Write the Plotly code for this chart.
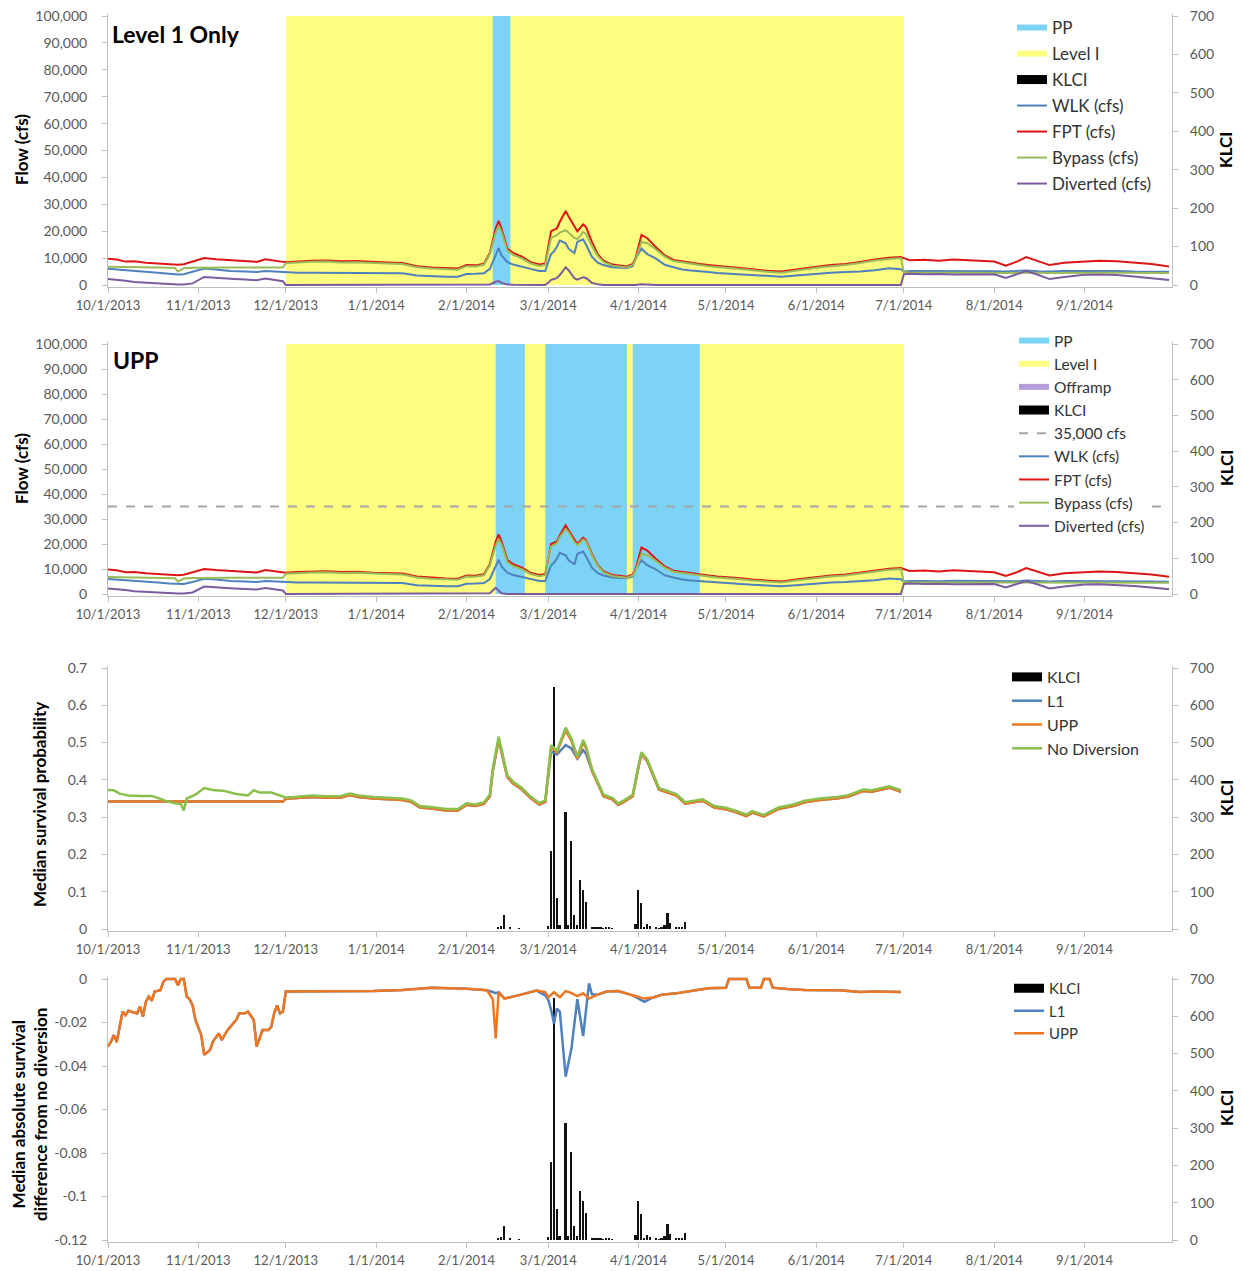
import plotly.graph_objects as go

# ---------------------------------------------------------------- data
month_ticks = ["2013-10-01", "2013-11-01", "2013-12-01", "2014-01-01", "2014-02-01", "2014-03-01",
               "2014-04-01", "2014-05-01", "2014-06-01", "2014-07-01", "2014-08-01", "2014-09-01"]
month_labels = ["10/1/2013", "11/1/2013", "12/1/2013", "1/1/2014", "2/1/2014", "3/1/2014",
                "4/1/2014", "5/1/2014", "6/1/2014", "7/1/2014", "8/1/2014", "9/1/2014"]

level1_periods = [("2013-12-01", "2014-07-01")]
pp_l1_periods = [("2014-02-10", "2014-02-16")]
pp_upp_periods = [("2014-02-11", "2014-02-21"), ("2014-02-28", "2014-03-28"), ("2014-03-30", "2014-04-22")]
offramp_periods = []
threshold_cfs = 35000

flow_dates = [
    "2013-10-01", "2013-10-04", "2013-10-07", "2013-10-10", "2013-10-14", "2013-10-18", "2013-10-22",
    "2013-10-24", "2013-10-25", "2013-10-27", "2013-10-30", "2013-11-03", "2013-11-07", "2013-11-12",
    "2013-11-17", "2013-11-21", "2013-11-24", "2013-11-27", "2013-11-30", "2013-12-01", "2013-12-05",
    "2013-12-10", "2013-12-15", "2013-12-20", "2013-12-25", "2013-12-31", "2014-01-05", "2014-01-10",
    "2014-01-15", "2014-01-20", "2014-01-25", "2014-01-29", "2014-02-01", "2014-02-04", "2014-02-07",
    "2014-02-09", "2014-02-11", "2014-02-12", "2014-02-13", "2014-02-15", "2014-02-17", "2014-02-20",
    "2014-02-23", "2014-02-26", "2014-02-28", "2014-03-01", "2014-03-02", "2014-03-03", "2014-03-04",
    "2014-03-05", "2014-03-07", "2014-03-08", "2014-03-10", "2014-03-11", "2014-03-13", "2014-03-14",
    "2014-03-16", "2014-03-18", "2014-03-20", "2014-03-23", "2014-03-26", "2014-03-28", "2014-03-30",
    "2014-03-31", "2014-04-02", "2014-04-04", "2014-04-07", "2014-04-10", "2014-04-13", "2014-04-16",
    "2014-04-19", "2014-04-22", "2014-04-25", "2014-04-28", "2014-05-01", "2014-05-05", "2014-05-10",
    "2014-05-15", "2014-05-20", "2014-05-25", "2014-06-01", "2014-06-06", "2014-06-11", "2014-06-16",
    "2014-06-21", "2014-06-26", "2014-06-30", "2014-07-01", "2014-07-03", "2014-07-08", "2014-07-13",
    "2014-07-18", "2014-07-23", "2014-07-28", "2014-08-01", "2014-08-05", "2014-08-09", "2014-08-12",
    "2014-08-16", "2014-08-20", "2014-08-25", "2014-09-01", "2014-09-06", "2014-09-12", "2014-09-18",
    "2014-09-24", "2014-09-30"]

fpt_cfs = [
    9800, 9500, 8700, 8800, 8300, 8000, 7700, 7600, 7500, 7700, 8600, 10000, 9600, 9200, 8800, 8600,
    9600, 9000, 8600, 8500, 8800, 9000, 9100, 8800, 8900, 8500, 8400, 8200, 7000, 6500, 6200, 6100,
    7400, 7300, 7900, 12000, 21000, 23800, 21000, 13600, 11900, 10500, 8500, 7600, 8000, 14000, 20000,
    20500, 21000, 23500, 27500, 25500, 21500, 20000, 22500, 21500, 16000, 11500, 9000, 7600, 7200,
    6900, 7800, 10000, 18600, 17400, 14000, 11000, 9300, 8800, 8100, 7800, 7400, 7000, 6800, 6400,
    5800, 5300, 5000, 5800, 6800, 7400, 7800, 8600, 9500, 10100, 10400, 10000, 9200, 9400, 9000,
    9500, 9200, 9000, 8700, 7200, 8800, 10400, 8800, 7400, 8300, 8700, 9000, 8800, 8300, 7800, 6900]

wlk_cfs = [
    6000, 5800, 5500, 5400, 5000, 4600, 4200, 4000, 3900, 4000, 4800, 6100, 5800, 5200, 5000, 4800,
    5200, 5000, 4700, 4600, 4600, 4600, 4600, 4600, 4600, 4500, 4500, 4400, 3500, 3200, 3100, 3100,
    4100, 4200, 4400, 6000, 11500, 13700, 11000, 8500, 7600, 6900, 6000, 5200, 5200, 8500, 11500,
    12500, 14200, 16500, 15500, 13500, 11900, 16000, 17000, 15000, 10500, 8300, 7400, 6600, 6400,
    6300, 7000, 10000, 13500, 11500, 9800, 7500, 6600, 5800, 5400, 5200, 4800, 4500, 4300, 4100,
    3700, 3300, 3100, 3500, 4300, 4600, 4800, 5000, 5500, 6200, 5900, 5000, 5200, 5200, 5100,
    5300, 5200, 5100, 5100, 5000, 5100, 5400, 5100, 5000, 5200, 5200, 5300, 5200, 5000, 5000, 4900]

bypass_l1_cfs = [
    6800, 6700, 6600, 6600, 6500, 6500, 6400, 6300, 5000, 6200, 6400, 6500, 6500, 6500, 6500, 6500,
    6600, 6500, 6500, 8100, 8400, 8600, 8700, 8400, 8500, 8100, 8000, 7800, 6600, 6100, 5800, 5700,
    7000, 6900, 7500, 11500, 19500, 22000, 19800, 12800, 11200, 9900, 8000, 7100, 7500, 13000, 17500,
    18000, 18500, 19500, 20400, 19500, 17500, 17000, 19700, 19000, 14500, 10800, 8600, 7200, 6800,
    6500, 7400, 9500, 16000, 15500, 13200, 10500, 8900, 8400, 7700, 7400, 7000, 6600, 6400, 6000,
    5400, 4900, 4600, 5400, 6400, 7000, 7400, 8200, 9100, 9700, 10000, 4800, 4600, 4600, 4500,
    4600, 4600, 4500, 4600, 4500, 4600, 4700, 4600, 4500, 4600, 4600, 4600, 4600, 4500, 4500, 4500]

diverted_l1_cfs = [
    2200, 2000, 1600, 1100, 800, 500, 300, 200, 200, 200, 600, 3000, 2600, 2300, 2000, 1800,
    2400, 2000, 1400, 0, 0, 0, 0, 0, 0, 0, 0, 0, 0, 0, 0, 0,
    0, 0, 0, 200, 1200, 1500, 800, 200, 100, 0, 0, 0, 0, 800, 1900,
    2200, 2600, 3700, 6600, 5500, 2500, 2000, 2900, 2600, 800, 300, 0, 0, 0,
    0, 0, 0, 300, 100, 0, 0, 0, 0, 0, 0, 0, 0, 0, 0,
    0, 0, 0, 0, 0, 0, 0, 0, 0, 0, 0, 4000, 4200, 4000, 4100,
    3900, 4000, 4100, 4000, 2600, 4200, 5200, 3800, 2200, 3000, 3800, 3900, 3700, 3200, 2600, 1900]

bypass_upp_cfs = [
    6800, 6700, 6600, 6600, 6500, 6500, 6400, 6300, 5000, 6200, 6400, 6500, 6500, 6500, 6500, 6500,
    6600, 6500, 6500, 8100, 8400, 8600, 8700, 8400, 8500, 8100, 8000, 7800, 6600, 6100, 5800, 5700,
    7000, 6900, 7500, 11500, 19500, 22000, 19800, 12800, 11200, 9900, 8000, 7100, 7500, 14500, 19000,
    19800, 20300, 22800, 26000, 24800, 20800, 19500, 21800, 21000, 15500, 11200, 8600, 7200, 6800,
    6500, 7400, 9500, 16000, 15500, 13200, 10500, 8900, 8400, 7700, 7400, 7000, 6600, 6400, 6000,
    5400, 4900, 4600, 5400, 6400, 7000, 7400, 8200, 9100, 9700, 10000, 4800, 4600, 4600, 4500,
    4600, 4600, 4500, 4600, 4500, 4600, 4700, 4600, 4500, 4600, 4600, 4600, 4600, 4500, 4500, 4500]

diverted_upp_cfs = [
    2200, 2000, 1600, 1100, 800, 500, 300, 200, 200, 200, 600, 3000, 2600, 2300, 2000, 1800,
    2400, 2000, 1400, 0, 0, 0, 0, 0, 0, 0, 0, 0, 0, 0, 0, 0,
    0, 0, 0, 300, 2500, 1200, 300, 0, 0, 0, 0, 0, 0, 0, 0,
    0, 0, 0, 0, 0, 0, 0, 0, 0, 0, 0, 0, 0, 0,
    0, 0, 0, 0, 0, 0, 0, 0, 0, 0, 0, 0, 0, 0, 0,
    0, 0, 0, 0, 0, 0, 0, 0, 0, 0, 0, 4000, 4200, 4000, 4100,
    3900, 4000, 4100, 4000, 2600, 4200, 5200, 3800, 2200, 3000, 3800, 3900, 3700, 3200, 2600, 1900]

klci_dates = [
    "2014-02-12", "2014-02-13", "2014-02-14", "2014-02-16", "2014-02-19", "2014-03-01", "2014-03-02",
    "2014-03-03", "2014-03-04", "2014-03-05", "2014-03-07", "2014-03-08", "2014-03-09", "2014-03-10",
    "2014-03-11", "2014-03-12", "2014-03-13", "2014-03-14", "2014-03-16", "2014-03-17", "2014-03-18",
    "2014-03-19", "2014-03-20", "2014-03-21", "2014-03-22", "2014-03-23", "2014-03-31", "2014-04-01",
    "2014-04-02", "2014-04-03", "2014-04-04", "2014-04-05", "2014-04-07", "2014-04-08", "2014-04-09",
    "2014-04-10", "2014-04-11", "2014-04-12", "2014-04-14", "2014-04-15", "2014-04-16", "2014-04-17"]
klci_values = [5, 8, 38, 5, 2, 8, 210, 650, 83, 11, 314, 10, 237, 38, 10, 131, 105, 72, 4, 3, 4,
               3, 2, 6, 4, 2, 13, 105, 70, 4, 13, 8, 3, 2, 3, 12, 43, 15, 4, 3, 5, 20]

surv_nd_dates = [
    "2013-10-01", "2013-10-03", "2013-10-05", "2013-10-08", "2013-10-12", "2013-10-16", "2013-10-18",
    "2013-10-21", "2013-10-24", "2013-10-26", "2013-10-27", "2013-10-28", "2013-10-31", "2013-11-03",
    "2013-11-06", "2013-11-10", "2013-11-14", "2013-11-18", "2013-11-20", "2013-11-22", "2013-11-26",
    "2013-11-29",
    "2013-12-01", "2013-12-05", "2013-12-10", "2013-12-15", "2013-12-20", "2013-12-23", "2013-12-26",
    "2013-12-31", "2014-01-05", "2014-01-10", "2014-01-13", "2014-01-16", "2014-01-20", "2014-01-25",
    "2014-01-29", "2014-02-01", "2014-02-04", "2014-02-07", "2014-02-09", "2014-02-10", "2014-02-12",
    "2014-02-13", "2014-02-15", "2014-02-17", "2014-02-20", "2014-02-23", "2014-02-26", "2014-02-28",
    "2014-03-01", "2014-03-02", "2014-03-04", "2014-03-07", "2014-03-09", "2014-03-11", "2014-03-13",
    "2014-03-14", "2014-03-16", "2014-03-18", "2014-03-20", "2014-03-23", "2014-03-25", "2014-03-27",
    "2014-03-30", "2014-04-01", "2014-04-02", "2014-04-04", "2014-04-06", "2014-04-08", "2014-04-11",
    "2014-04-14", "2014-04-17", "2014-04-20", "2014-04-23", "2014-04-27", "2014-05-01", "2014-05-04",
    "2014-05-08", "2014-05-10", "2014-05-14", "2014-05-19", "2014-05-24", "2014-05-28", "2014-06-02",
    "2014-06-08", "2014-06-12", "2014-06-17", "2014-06-20", "2014-06-26", "2014-06-30"]
surv_nd = [
    0.373, 0.372, 0.363, 0.358, 0.357, 0.357, 0.352, 0.343, 0.337, 0.335, 0.318, 0.350, 0.360, 0.378,
    0.373, 0.370, 0.362, 0.358, 0.372, 0.366, 0.366, 0.357,
    0.353, 0.355, 0.358, 0.356, 0.357, 0.363, 0.358, 0.354, 0.352, 0.350, 0.345, 0.330, 0.327, 0.322,
    0.322, 0.337, 0.334, 0.340, 0.360, 0.430, 0.516, 0.480, 0.412, 0.395, 0.378, 0.355, 0.338, 0.345,
    0.420, 0.493, 0.478, 0.540, 0.510, 0.462, 0.507, 0.490, 0.430, 0.395, 0.360, 0.352, 0.337, 0.345,
    0.360, 0.440, 0.474, 0.455, 0.415, 0.378, 0.370, 0.362, 0.340, 0.343, 0.348, 0.330, 0.325, 0.318,
    0.307, 0.316, 0.306, 0.326, 0.334, 0.344, 0.350, 0.354, 0.359, 0.374, 0.372, 0.383, 0.372]

surv_sc_dates = [
    "2013-10-01", "2013-11-30",
    "2013-12-01", "2013-12-05", "2013-12-10", "2013-12-15", "2013-12-20", "2013-12-23", "2013-12-26",
    "2013-12-31", "2014-01-05", "2014-01-10", "2014-01-13", "2014-01-16", "2014-01-20", "2014-01-25",
    "2014-01-29", "2014-02-01", "2014-02-04", "2014-02-07", "2014-02-09", "2014-02-10", "2014-02-12",
    "2014-02-13", "2014-02-15", "2014-02-17", "2014-02-20", "2014-02-23", "2014-02-26", "2014-02-28",
    "2014-03-01", "2014-03-02", "2014-03-04", "2014-03-07", "2014-03-09", "2014-03-11", "2014-03-13",
    "2014-03-14", "2014-03-16", "2014-03-18", "2014-03-20", "2014-03-23", "2014-03-25", "2014-03-27",
    "2014-03-30", "2014-04-01", "2014-04-02", "2014-04-04", "2014-04-06", "2014-04-08", "2014-04-11",
    "2014-04-14", "2014-04-17", "2014-04-20", "2014-04-23", "2014-04-27", "2014-05-01", "2014-05-04",
    "2014-05-08", "2014-05-10", "2014-05-14", "2014-05-19", "2014-05-24", "2014-05-28", "2014-06-02",
    "2014-06-08", "2014-06-12", "2014-06-17", "2014-06-20", "2014-06-26", "2014-06-30"]
surv_upp = [
    0.342, 0.342,
    0.349, 0.351, 0.354, 0.352, 0.353, 0.359, 0.354, 0.350, 0.348, 0.346, 0.341, 0.326, 0.323, 0.318,
    0.318, 0.333, 0.330, 0.336, 0.356, 0.424, 0.508, 0.474, 0.407, 0.390, 0.374, 0.351, 0.334, 0.341,
    0.415, 0.488, 0.474, 0.533, 0.504, 0.457, 0.500, 0.485, 0.425, 0.391, 0.356, 0.348, 0.333, 0.341,
    0.356, 0.435, 0.469, 0.450, 0.411, 0.374, 0.366, 0.358, 0.336, 0.339, 0.344, 0.326, 0.321, 0.314,
    0.303, 0.312, 0.302, 0.322, 0.330, 0.340, 0.346, 0.350, 0.355, 0.370, 0.368, 0.379, 0.368]
surv_l1 = [
    0.342, 0.342,
    0.349, 0.351, 0.354, 0.352, 0.353, 0.359, 0.354, 0.350, 0.348, 0.346, 0.341, 0.326, 0.323, 0.318,
    0.318, 0.333, 0.330, 0.336, 0.356, 0.424, 0.508, 0.474, 0.407, 0.390, 0.374, 0.351, 0.334, 0.341,
    0.415, 0.476, 0.468, 0.493, 0.484, 0.457, 0.480, 0.470, 0.425, 0.391, 0.356, 0.348, 0.333, 0.341,
    0.356, 0.435, 0.469, 0.450, 0.411, 0.374, 0.366, 0.358, 0.336, 0.339, 0.344, 0.326, 0.321, 0.314,
    0.303, 0.312, 0.302, 0.322, 0.330, 0.340, 0.346, 0.350, 0.355, 0.370, 0.368, 0.379, 0.368]

diff_upp_dates = [
    "2013-10-01", "2013-10-02", "2013-10-03", "2013-10-04", "2013-10-05", "2013-10-06", "2013-10-07",
    "2013-10-08", "2013-10-11", "2013-10-12", "2013-10-13", "2013-10-14", "2013-10-15", "2013-10-16",
    "2013-10-17", "2013-10-19", "2013-10-20", "2013-10-21", "2013-10-24", "2013-10-25", "2013-10-26",
    "2013-10-27", "2013-10-28", "2013-10-29", "2013-10-30", "2013-10-31", "2013-11-02", "2013-11-03",
    "2013-11-05", "2013-11-06", "2013-11-08", "2013-11-09", "2013-11-11", "2013-11-14", "2013-11-15",
    "2013-11-17", "2013-11-18", "2013-11-20", "2013-11-21", "2013-11-23", "2013-11-25", "2013-11-26",
    "2013-11-27", "2013-11-28", "2013-11-29", "2013-11-30", "2013-12-01", "2013-12-15", "2013-12-31",
    "2014-01-10", "2014-01-20", "2014-02-01", "2014-02-08", "2014-02-10", "2014-02-11", "2014-02-12",
    "2014-02-14", "2014-02-19", "2014-02-25", "2014-02-28", "2014-03-01", "2014-03-03", "2014-03-05",
    "2014-03-07", "2014-03-09", "2014-03-11", "2014-03-13", "2014-03-15", "2014-03-18", "2014-03-21",
    "2014-03-25", "2014-03-30", "2014-04-03", "2014-04-06", "2014-04-09", "2014-04-14", "2014-04-19",
    "2014-04-25", "2014-05-01", "2014-05-02", "2014-05-08", "2014-05-09", "2014-05-13", "2014-05-14",
    "2014-05-16", "2014-05-17", "2014-05-22", "2014-05-28", "2014-06-09", "2014-06-16", "2014-06-21",
    "2014-06-30"]
diff_upp = [
    -0.0311, -0.0288, -0.0258, -0.0290, -0.0220, -0.0150, -0.0166,
    -0.0146, -0.0158, -0.0127, -0.0173, -0.0104, -0.0081, -0.0100,
    -0.0058, -0.0051, -0.0012, 0.0, 0.0, -0.0028, 0.0,
    0.0, -0.0080, -0.0093, -0.0120, -0.0188, -0.0258, -0.0349,
    -0.0326, -0.0288, -0.0250, -0.0281, -0.0235, -0.0188, -0.0158,
    -0.0158, -0.0150, -0.0188, -0.0311, -0.0235, -0.0235, -0.0220,
    -0.0158, -0.0122, -0.0158, -0.0150, -0.0058, -0.0057, -0.0055,
    -0.0050, -0.0040, -0.0045, -0.0052, -0.0093, -0.0273, -0.0061,
    -0.0090, -0.0074, -0.0053, -0.0060, -0.0084, -0.0061, -0.0084,
    -0.0055, -0.0065, -0.0079, -0.0066, -0.0090, -0.0072, -0.0058,
    -0.0055, -0.0075, -0.0090, -0.0085, -0.0072, -0.0066, -0.0055,
    -0.0043, -0.0040, 0.0, 0.0, -0.0040, -0.0040, 0.0,
    0.0, -0.0040, -0.0046, -0.0050, -0.0052, -0.0060, -0.0058,
    -0.0060]

diff_l1_dates = [
    "2013-10-01", "2013-10-02", "2013-10-03", "2013-10-04", "2013-10-05", "2013-10-06", "2013-10-07",
    "2013-10-08", "2013-10-11", "2013-10-12", "2013-10-13", "2013-10-14", "2013-10-15", "2013-10-16",
    "2013-10-17", "2013-10-19", "2013-10-20", "2013-10-21", "2013-10-24", "2013-10-25", "2013-10-26",
    "2013-10-27", "2013-10-28", "2013-10-29", "2013-10-30", "2013-10-31", "2013-11-02", "2013-11-03",
    "2013-11-05", "2013-11-06", "2013-11-08", "2013-11-09", "2013-11-11", "2013-11-14", "2013-11-15",
    "2013-11-17", "2013-11-18", "2013-11-20", "2013-11-21", "2013-11-23", "2013-11-25", "2013-11-26",
    "2013-11-27", "2013-11-28", "2013-11-29", "2013-11-30", "2013-12-01", "2013-12-15", "2013-12-31",
    "2014-01-10", "2014-01-20", "2014-02-01", "2014-02-08", "2014-02-10", "2014-02-11", "2014-02-12",
    "2014-02-14", "2014-02-19", "2014-02-25", "2014-02-28", "2014-03-01", "2014-03-02", "2014-03-03",
    "2014-03-04", "2014-03-05", "2014-03-07", "2014-03-09", "2014-03-11", "2014-03-13", "2014-03-15",
    "2014-03-16", "2014-03-18", "2014-03-21", "2014-03-25", "2014-03-30", "2014-04-03", "2014-04-06",
    "2014-04-09", "2014-04-14", "2014-04-19", "2014-04-25", "2014-05-01", "2014-05-02", "2014-05-08",
    "2014-05-09", "2014-05-13", "2014-05-14", "2014-05-16", "2014-05-17", "2014-05-22", "2014-05-28",
    "2014-06-09", "2014-06-16", "2014-06-21", "2014-06-30"]
diff_l1 = [
    -0.0311, -0.0288, -0.0258, -0.0290, -0.0220, -0.0150, -0.0166,
    -0.0146, -0.0158, -0.0127, -0.0173, -0.0104, -0.0081, -0.0100,
    -0.0058, -0.0051, -0.0012, 0.0, 0.0, -0.0028, 0.0,
    0.0, -0.0080, -0.0093, -0.0120, -0.0188, -0.0258, -0.0349,
    -0.0326, -0.0288, -0.0250, -0.0281, -0.0235, -0.0188, -0.0158,
    -0.0158, -0.0150, -0.0188, -0.0311, -0.0235, -0.0235, -0.0220,
    -0.0158, -0.0122, -0.0158, -0.0150, -0.0058, -0.0057, -0.0055,
    -0.0050, -0.0040, -0.0045, -0.0052, -0.0060, -0.0065, -0.0061,
    -0.0090, -0.0074, -0.0053, -0.0075, -0.0095, -0.0142, -0.0204,
    -0.0136, -0.0150, -0.0449, -0.0317, -0.0093, -0.0262, -0.0020,
    -0.0070, -0.0072, -0.0058, -0.0055, -0.0075, -0.0105, -0.0085,
    -0.0072, -0.0066, -0.0055, -0.0043, -0.0040, 0.0, 0.0,
    -0.0040, -0.0040, 0.0, 0.0, -0.0040, -0.0046, -0.0050,
    -0.0052, -0.0060, -0.0058, -0.0060]

flow_ticks = [0, 10000, 20000, 30000, 40000, 50000, 60000, 70000, 80000, 90000, 100000]
flow_labels = ["0", "10,000", "20,000", "30,000", "40,000", "50,000", "60,000", "70,000",
               "80,000", "90,000", "100,000"]
klci_ticks = [0, 100, 200, 300, 400, 500, 600, 700]
klci_labels = ["0", "100", "200", "300", "400", "500", "600", "700"]
surv_ticks = [0, 0.1, 0.2, 0.3, 0.4, 0.5, 0.6, 0.7]
surv_labels = ["0", "0.1", "0.2", "0.3", "0.4", "0.5", "0.6", "0.7"]
diff_ticks = [0, -0.02, -0.04, -0.06, -0.08, -0.1, -0.12]
diff_labels = ["0", "-0.02", "-0.04", "-0.06", "-0.08", "-0.1", "-0.12"]

# ---------------------------------------------------------------- layout helpers
W, H = 1234, 1263
OX, OY = 8, 8
FONT = "Lato"
X0PX, X1PX = 108, 1172
X_RANGE = ["2013-10-01", "2014-10-01"]
DAY_MS = 86400000

C_PP = "#7DD3F5"
C_L1 = "#FDFD80"
C_OFF = "#B39DDB"
C_WLK = "#4F81BD"
C_FPT = "#DD1515"
C_BYP = "#9BBB59"
C_DIV = "#7B5C9E"
C_S_L1 = "#4F81BD"
C_S_UPP = "#EE7722"
C_S_ND = "#8CC04E"
AXC = "#BFBFBF"
TICKC = "#595959"


def pxx(X):
    return (X - OX) / W


def pxy(Y):
    return 1 - (Y - OY) / H


def axis_geom(top, bot, vmin, vmax, pad=2):
    ppu = (bot - top) / (vmax - vmin)
    rng = [vmin - pad / ppu, vmax + pad / ppu]
    dom = [pxy(bot + pad), pxy(top - pad)]
    return rng, dom


def period_xy(periods, ymax):
    xs, ys = [], []
    for s, e in periods:
        xs += [s, s, e, e, s, None]
        ys += [0, ymax, ymax, 0, 0, None]
    return xs, ys


fig = go.Figure()

panels = [
    dict(top=16, bot=285, vmin=0, vmax=100000, ticks=flow_ticks, labels=flow_labels),
    dict(top=344, bot=594, vmin=0, vmax=100000, ticks=flow_ticks, labels=flow_labels),
    dict(top=668, bot=929, vmin=0, vmax=0.7, ticks=surv_ticks, labels=surv_labels),
    dict(top=979, bot=1240, vmin=-0.12, vmax=0, ticks=diff_ticks, labels=diff_labels),
]

xtick_font = dict(family=FONT, size=13, color=TICKC)
ytick_font = dict(family=FONT, size=14, color=TICKC)
common_ax = dict(automargin=False, showgrid=False, zeroline=False, showline=True, linecolor=AXC,
                 linewidth=1, ticks="outside", ticklen=5, tickcolor=AXC,
                 ticklabeloverflow="allow")
layout_axes = {}
for i, p in enumerate(panels, start=1):
    xname = "xaxis" if i == 1 else f"xaxis{i}"
    kname = "yaxis" if i == 1 else f"yaxis{2 * i - 1}"
    vname = f"yaxis{2 * i}"
    kref = "y" if i == 1 else f"y{2 * i - 1}"
    xref = "x" if i == 1 else f"x{i}"
    krng, dom = axis_geom(p["top"], p["bot"], 0, 700)
    vrng, _ = axis_geom(p["top"], p["bot"], p["vmin"], p["vmax"])
    layout_axes[xname] = dict(
        type="date", range=X_RANGE, domain=[pxx(X0PX), pxx(X1PX)], anchor=kref,
        tickvals=month_ticks, ticktext=month_labels, ticklabelstandoff=1, tickfont=xtick_font,
        **common_ax)
    layout_axes[kname] = dict(
        range=krng, domain=dom, anchor=xref, side="right", tickvals=klci_ticks, ticktext=klci_labels,
        ticklabelstandoff=9, tickfont=ytick_font, **common_ax)
    layout_axes[vname] = dict(
        range=vrng, overlaying=kref, anchor=xref, side="left", tickvals=p["ticks"],
        ticktext=p["labels"], ticklabelstandoff=12, tickfont=ytick_font, **common_ax)


def shade(periods, color, name, xref, yref, legend, rank, show=True):
    xs, ys = period_xy(periods, 700)
    if not xs:
        xs, ys = [None], [None]
    fig.add_trace(go.Scatter(
        x=xs, y=ys, fill="toself", fillcolor=color, mode="none", name=name, xaxis=xref, yaxis=yref,
        legend=legend, legendrank=rank, legendgroup=f"{legend}_{rank}", showlegend=show,
        hoverinfo="skip"))


def bars(xref, yref, legend, rank):
    fig.add_trace(go.Bar(
        x=klci_dates, y=klci_values, width=0.6 * DAY_MS, marker=dict(color="#111111", line_width=0),
        name="KLCI", xaxis=xref, yaxis=yref, showlegend=False))
    # legend proxy with a wide black swatch
    fig.add_trace(go.Scatter(
        x=[None], y=[None], mode="lines", line=dict(color="#000000", width=9), name="KLCI",
        xaxis=xref, yaxis=yref, legend=legend, legendrank=rank, legendgroup=f"{legend}_{rank}"))


def line(x, y, color, name, xref, yref, legend, rank, width=2, dash="solid"):
    fig.add_trace(go.Scatter(
        x=x, y=y, mode="lines", line=dict(color=color, width=width, dash=dash), name=name,
        xaxis=xref, yaxis=yref, legend=legend, legendrank=rank, legendgroup=f"{legend}_{rank}"))


# panel 1 -- Level 1 only
shade(level1_periods, C_L1, "Level I", "x", "y", "legend", 2)
shade(pp_l1_periods, C_PP, "PP", "x", "y", "legend", 1)
bars("x", "y", "legend", 3)
line(flow_dates, wlk_cfs, C_WLK, "WLK (cfs)", "x", "y2", "legend", 4)
line(flow_dates, fpt_cfs, C_FPT, "FPT (cfs)", "x", "y2", "legend", 5)
line(flow_dates, bypass_l1_cfs, C_BYP, "Bypass (cfs)", "x", "y2", "legend", 6)
line(flow_dates, diverted_l1_cfs, C_DIV, "Diverted (cfs)", "x", "y2", "legend", 7)

# panel 2 -- UPP
shade(level1_periods, C_L1, "Level I", "x2", "y3", "legend2", 2)
shade(pp_upp_periods, C_PP, "PP", "x2", "y3", "legend2", 1)
shade(offramp_periods, C_OFF, "Offramp", "x2", "y3", "legend2", 3)
bars("x2", "y3", "legend2", 4)
line([X_RANGE[0], "2014-09-30"], [threshold_cfs, threshold_cfs], "#A6A6A6", "35,000 cfs",
     "x2", "y4", "legend2", 5, width=2, dash="dash")
line(flow_dates, wlk_cfs, C_WLK, "WLK (cfs)", "x2", "y4", "legend2", 6)
line(flow_dates, fpt_cfs, C_FPT, "FPT (cfs)", "x2", "y4", "legend2", 7)
line(flow_dates, bypass_upp_cfs, C_BYP, "Bypass (cfs)", "x2", "y4", "legend2", 8)
line(flow_dates, diverted_upp_cfs, C_DIV, "Diverted (cfs)", "x2", "y4", "legend2", 9)

# panel 3 -- survival
bars("x3", "y5", "legend3", 1)
line(surv_sc_dates, surv_l1, C_S_L1, "L1", "x3", "y6", "legend3", 2, width=2.5)
line(surv_sc_dates, surv_upp, C_S_UPP, "UPP", "x3", "y6", "legend3", 3, width=2.5)
line(surv_nd_dates, surv_nd, C_S_ND, "No Diversion", "x3", "y6", "legend3", 4, width=2.5)

# panel 4 -- difference
bars("x4", "y7", "legend4", 1)
line(diff_l1_dates, diff_l1, C_S_L1, "L1", "x4", "y8", "legend4", 2, width=2.5)
line(diff_upp_dates, diff_upp, C_S_UPP, "UPP", "x4", "y8", "legend4", 3, width=2.5)


def lfont(size):
    return dict(family=FONT, size=size, color="#333333")


leg_common = dict(xanchor="left", yanchor="top", traceorder="grouped", itemwidth=30,
                  borderwidth=0, itemclick=False, itemdoubleclick=False)

fig.update_layout(
    width=W, height=H, margin=dict(l=0, r=0, t=0, b=0, autoexpand=False), autosize=False,
    paper_bgcolor="white", plot_bgcolor="rgba(0,0,0,0)", showlegend=True,
    font=dict(family=FONT, color="#333333"), bargap=0,
    legend=dict(x=pxx(1012), y=pxy(10), font=lfont(17), tracegroupgap=0.9,
                bgcolor="rgba(255,255,255,0)", **leg_common),
    legend2=dict(x=pxx(1014), y=pxy(324), font=lfont(15.5), tracegroupgap=0,
                 bgcolor="white", **leg_common),
    legend3=dict(x=pxx(1007), y=pxy(660), font=lfont(16), tracegroupgap=0,
                 bgcolor="rgba(255,255,255,0)", **leg_common),
    legend4=dict(x=pxx(1009), y=pxy(972), font=lfont(15), tracegroupgap=0,
                 bgcolor="rgba(255,255,255,0)", **leg_common),
    **layout_axes,
)

TITLE = dict(family=FONT, size=17, color="#000000")
ann = [
    dict(text="<b>Level 1 Only</b>", x=pxx(110), y=pxy(34), xanchor="left", yanchor="middle",
         font=dict(family=FONT, size=23, color="#000000")),
    dict(text="<b>UPP</b>", x=pxx(111), y=pxy(360), xanchor="left", yanchor="middle",
         font=dict(family=FONT, size=23, color="#000000")),
    dict(text="<b>Flow (cfs)</b>", x=pxx(22), y=pxy(150), textangle=-90, font=TITLE),
    dict(text="<b>Flow (cfs)</b>", x=pxx(22), y=pxy(469), textangle=-90, font=TITLE),
    dict(text="<b>Median survival probability</b>", x=pxx(39), y=pxy(805), textangle=-90,
         font=TITLE),
    dict(text="<b>Median absolute survival<br>difference from no diversion</b>", x=pxx(29),
         y=pxy(1115), textangle=-90, font=TITLE),
]
for yk in (150, 468, 798, 1108):
    ann.append(dict(text="<b>KLCI</b>", x=pxx(1226), y=pxy(yk), textangle=-90, font=TITLE))
for a in ann:
    a.update(xref="paper", yref="paper", showarrow=False)
    a.setdefault("xanchor", "center")
    a.setdefault("yanchor", "middle")
fig.update_layout(annotations=ann)

fig.write_html("out.html")
